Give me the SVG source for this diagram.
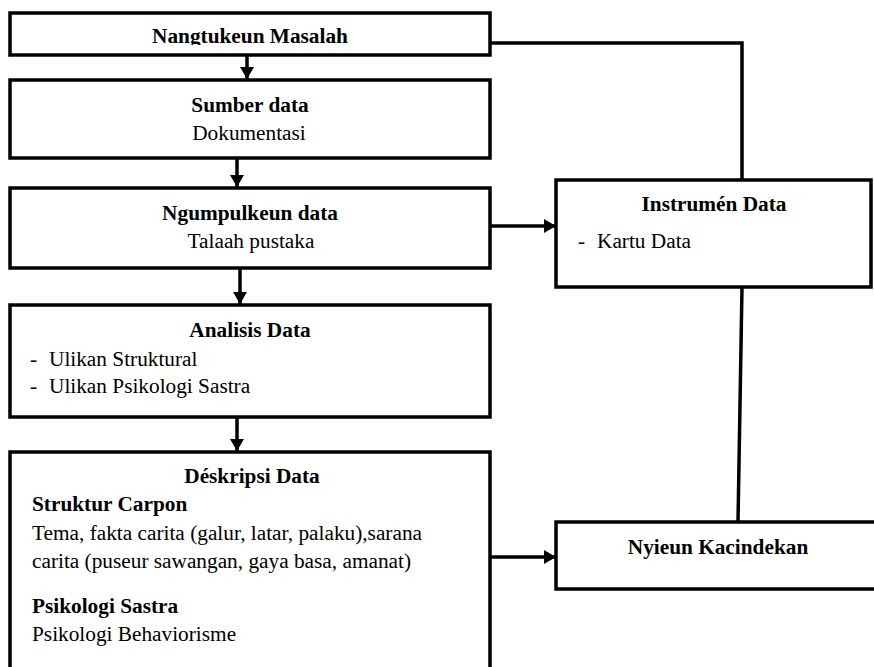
<svg xmlns="http://www.w3.org/2000/svg" width="874" height="667" viewBox="0 0 874 667">
<style>
.box{fill:#fff;stroke:#000;stroke-width:3.5}
.ln{fill:none;stroke:#000;stroke-width:3.5}
text{font-family:'Liberation Serif','DejaVu Serif',serif;font-size:21.3px;fill:#000}
.b{font-weight:bold}
.c{text-anchor:middle}
</style>
<defs>
<marker id="ah" markerUnits="userSpaceOnUse" viewBox="0 0 12 14" markerWidth="12" markerHeight="14" refX="12" refY="7" orient="auto">
<path d="M0,0 L12,7 L0,14 z" fill="#000"/>
</marker>
<clipPath id="clip1"><rect x="0" y="0" width="874" height="45"/></clipPath>
</defs>
<rect width="874" height="667" fill="#fff"/>
<g id="connectors">
<line class="ln" x1="247" y1="55" x2="247" y2="79" marker-end="url(#ah)"/>
<line class="ln" x1="237" y1="158" x2="237" y2="187" marker-end="url(#ah)"/>
<line class="ln" x1="240" y1="268" x2="240" y2="304" marker-end="url(#ah)"/>
<line class="ln" x1="237" y1="417" x2="237" y2="451" marker-end="url(#ah)"/>
<line class="ln" x1="490" y1="226" x2="556" y2="226" marker-end="url(#ah)"/>
<line class="ln" x1="490" y1="557" x2="556" y2="557" marker-end="url(#ah)"/>
<path class="ln" d="M490,43 H742 V180"/>
<path class="ln" d="M742,287 L738,522"/>
</g>
<g font-family="Liberation Serif, DejaVu Serif, serif">
<g id="n1">
<rect class="box" x="10" y="13" width="480" height="42"/>
<text class="b c" x="250" y="43" clip-path="url(#clip1)">Nangtukeun Masalah</text>
</g>
<g id="n2">
<rect class="box" x="10" y="80" width="480" height="78"/>
<text class="b c" x="250" y="112">Sumber data</text>
<text class="c" x="249" y="140">Dokumentasi</text>
</g>
<g id="n3">
<rect class="box" x="10" y="188" width="480" height="80"/>
<text class="b c" x="250" y="220">Ngumpulkeun data</text>
<text class="c" x="251" y="248">Talaah pustaka</text>
</g>
<g id="n4">
<rect class="box" x="10" y="305" width="480" height="112"/>
<text class="b c" x="250" y="337">Analisis Data</text>
<text x="30" y="366">-</text>
<text x="49" y="366">Ulikan Struktural</text>
<text x="30" y="393">-</text>
<text x="49" y="393">Ulikan Psikologi Sastra</text>
</g>
<g id="n5">
<path class="box" d="M10,670 V452 H490 V670"/>
<text class="b c" x="252" y="483">Déskripsi Data</text>
<text class="b" x="32" y="511">Struktur Carpon</text>
<text x="32" y="540">Tema, fakta carita (galur, latar, palaku),sarana</text>
<text x="32" y="568">carita (puseur sawangan, gaya basa, amanat)</text>
<text class="b" x="32" y="613">Psikologi Sastra</text>
<text x="32" y="641">Psikologi Behaviorisme</text>
</g>
<g id="n6">
<rect class="box" x="556" y="180" width="315" height="107"/>
<text class="b c" x="714" y="211">Instrumén Data</text>
<text x="578" y="248">-</text>
<text x="597" y="248">Kartu Data</text>
</g>
<g id="n7">
<path class="box" d="M880,522 H556 V589 H880"/>
<text class="b c" x="718" y="554">Nyieun Kacindekan</text>
</g>
</g>
</svg>
